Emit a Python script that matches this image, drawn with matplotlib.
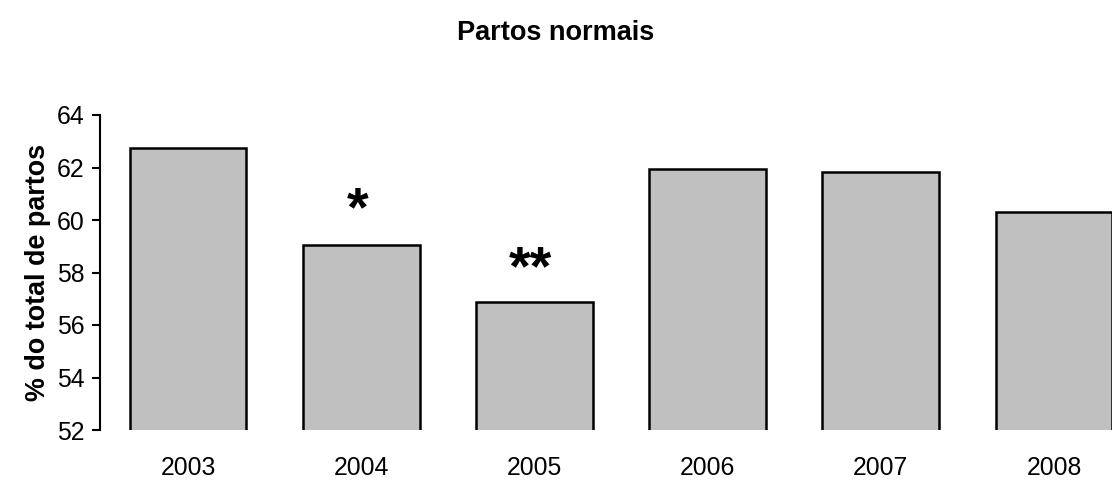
import matplotlib
matplotlib.use("Agg")
import matplotlib.pyplot as plt

years = ["2003", "2004", "2005", "2006", "2007", "2008"]
values = [62.74, 59.05, 56.88, 61.94, 61.83, 60.30]
marks = ["", "*", "**", "", "", ""]
mark_y = [None, 60.95, 58.67, None, None, None]
yticks = [52, 54, 56, 58, 60, 62, 64]

plt.rcParams['font.family'] = ['Liberation Sans', 'DejaVu Sans']

fig = plt.figure(figsize=(11.12, 4.8), dpi=100)
ax = fig.add_axes([100/1112, 1-430/480, 1-100/1112, (430-115)/480])

x = list(range(len(years)))
ax.bar(x, values, width=0.675, color="#C0C0C0", edgecolor="black", linewidth=1.8)
for xi, m, my in zip(x, marks, mark_y):
    if m:
        ax.text(xi - 0.02, my - 0.6, m, ha="center", va="center", fontsize=40, fontweight="bold")

ax.set_ylim(52, 64)
ax.set_xlim(-0.508, 5.335)
ax.set_yticks(yticks)
ax.set_yticklabels([str(t) for t in yticks], fontsize=17.8)
ax.set_xticks(x)
ax.set_xticklabels(years, fontsize=17.8)
ax.tick_params(axis='x', length=0, pad=19)
ax.tick_params(axis='y', length=6, width=1.5, pad=5)
for s in ["top", "right", "bottom"]:
    ax.spines[s].set_visible(False)
ax.spines["left"].set_linewidth(1.5)
ax.set_ylabel("% do total de partos", fontsize=19.4, fontweight="bold", labelpad=4)
fig.text(0.5, 1-33/480, "Partos normais", ha="center", va="center", fontsize=19.5, fontweight="bold")

fig.savefig("out.png", dpi=100)
